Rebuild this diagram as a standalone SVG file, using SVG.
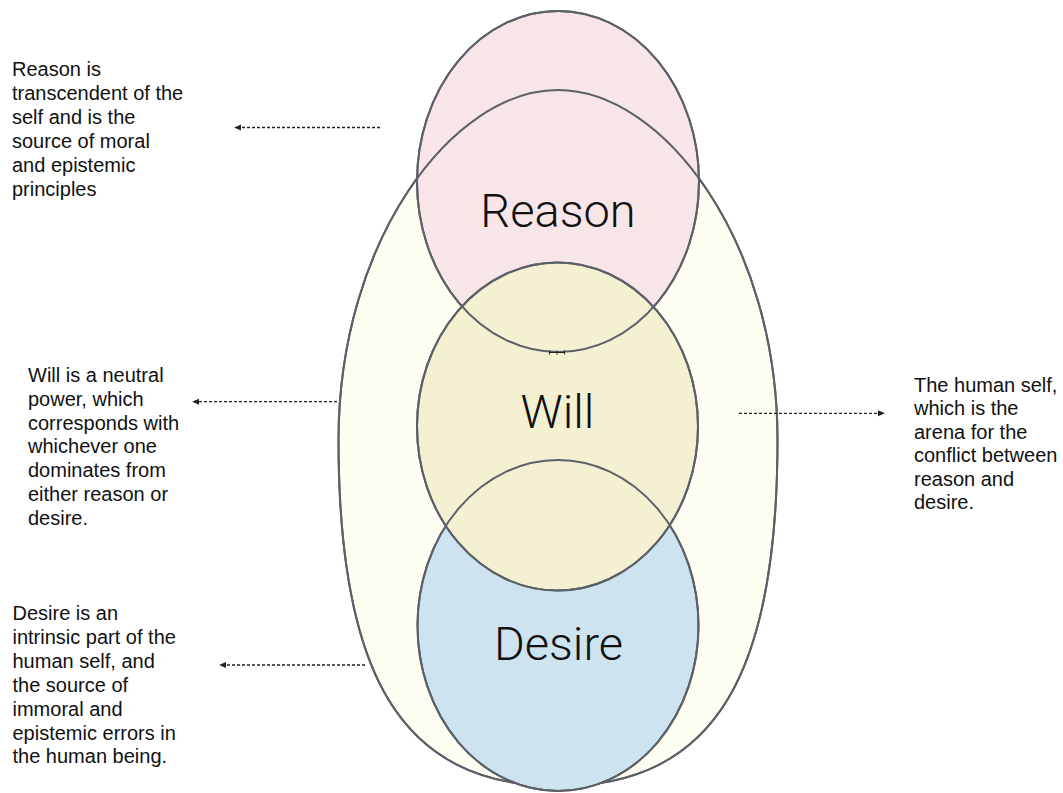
<svg xmlns="http://www.w3.org/2000/svg" xmlns:xlink="http://www.w3.org/1999/xlink" width="1063" height="793" viewBox="0 0 1063 793">
  <style>
    .shape { stroke: #5c6067; stroke-width: 2; }
    .outline { fill: none; stroke: #5c6067; stroke-width: 2; }
    .big { font-family: Roboto, "Liberation Sans", sans-serif; font-weight: 300; font-size: 47px; fill: #111; text-anchor: middle; }
    .note { font-family: "Liberation Sans", Arial, sans-serif; font-size: 20px; fill: #111; }
    .conn { fill: none; stroke: #222; stroke-width: 1.3; stroke-dasharray: 3 2; }
  </style>
  <defs>
    <marker id="arrow" viewBox="0 0 8 8" refX="7" refY="4" markerWidth="7" markerHeight="7" markerUnits="userSpaceOnUse" orient="auto">
      <path d="M0,0.5 L8,4 L0,7.5 Z" fill="#222"/>
    </marker>
    <path id="selfShape" d="M558,90 C663,90 777.5,240 777.5,440 C777.5,670 718,786 558,786 C398,786 338.5,670 338.5,440 C338.5,240 453,90 558,90 Z"/>
    <ellipse id="reasonShape" cx="558" cy="181.5" rx="141" ry="170.5"/>
    <ellipse id="desireShape" cx="558" cy="625.5" rx="140.5" ry="165.5"/>
    <ellipse id="willShape" cx="557.5" cy="426.5" rx="140.5" ry="164"/>
  </defs>

  <g id="human-self">
    <use xlink:href="#selfShape" href="#selfShape" class="shape" fill="#fdfdf2"/>
  </g>
  <g id="reason">
    <use xlink:href="#reasonShape" href="#reasonShape" class="shape" fill="#f8e5e7"/>
    <text class="big" x="558" y="227">Reason</text>
  </g>
  <g id="self-outline">
    <use xlink:href="#selfShape" href="#selfShape" class="outline"/>
  </g>
  <g id="desire">
    <use xlink:href="#desireShape" href="#desireShape" class="shape" fill="#cde4f0"/>
    <text class="big" x="558.5" y="660">Desire</text>
  </g>
  <g id="will">
    <use xlink:href="#willShape" href="#willShape" class="shape" fill="#f4f1d3"/>
    <text class="big" x="557.5" y="428">Will</text>
  </g>
  <g id="outlines">
    <use xlink:href="#reasonShape" href="#reasonShape" class="outline"/>
    <use xlink:href="#desireShape" href="#desireShape" class="outline"/>
    <use xlink:href="#willShape" href="#willShape" class="outline"/>
  </g>

  <g id="note-reason">
    <text class="note" x="12" y="76">
      <tspan x="12" y="76">Reason is</tspan>
      <tspan x="12" y="100">transcendent of the</tspan>
      <tspan x="12" y="124">self and is the</tspan>
      <tspan x="12" y="148">source of moral</tspan>
      <tspan x="12" y="172">and epistemic</tspan>
      <tspan x="12" y="196">principles</tspan>
    </text>
  </g>
  <g id="note-will">
    <text class="note" x="28" y="382">
      <tspan x="28" y="382">Will is a neutral</tspan>
      <tspan x="28" y="405.8">power, which</tspan>
      <tspan x="28" y="429.6">corresponds with</tspan>
      <tspan x="28" y="453.4">whichever one</tspan>
      <tspan x="28" y="477.2">dominates from</tspan>
      <tspan x="28" y="501">either reason or</tspan>
      <tspan x="28" y="524.8">desire.</tspan>
    </text>
  </g>
  <g id="note-self">
    <text class="note" x="914" y="391.7">
      <tspan x="914" y="391.7">The human self,</tspan>
      <tspan x="914" y="415.2">which is the</tspan>
      <tspan x="914" y="438.7">arena for the</tspan>
      <tspan x="914" y="462.2">conflict between</tspan>
      <tspan x="914" y="485.7">reason and</tspan>
      <tspan x="914" y="509.2">desire.</tspan>
    </text>
  </g>
  <g id="note-desire">
    <text class="note" x="12.5" y="620">
      <tspan x="12.5" y="620">Desire is an</tspan>
      <tspan x="12.5" y="643.9">intrinsic part of the</tspan>
      <tspan x="12.5" y="667.8">human self, and</tspan>
      <tspan x="12.5" y="691.7">the source of</tspan>
      <tspan x="12.5" y="715.6">immoral and</tspan>
      <tspan x="12.5" y="739.5">epistemic errors in</tspan>
      <tspan x="12.5" y="763.4">the human being.</tspan>
    </text>
  </g>

  <g id="connectors">
    <path class="conn" d="M380,127.5 L235,127.5" marker-end="url(#arrow)"/>
    <path class="conn" d="M337,401.7 L193,401.7" marker-end="url(#arrow)"/>
    <path class="conn" d="M739,413.3 L884,413.3" marker-end="url(#arrow)"/>
    <path class="conn" d="M365,665 L220,665" marker-end="url(#arrow)"/>
    <path d="M549,352.5 L565,352.5 M549.5,350.5 L549.5,354.5 M557,350.5 L557,354.5 M564.5,350.5 L564.5,354.5" fill="none" stroke="#222" stroke-width="1"/>
  </g>
</svg>
